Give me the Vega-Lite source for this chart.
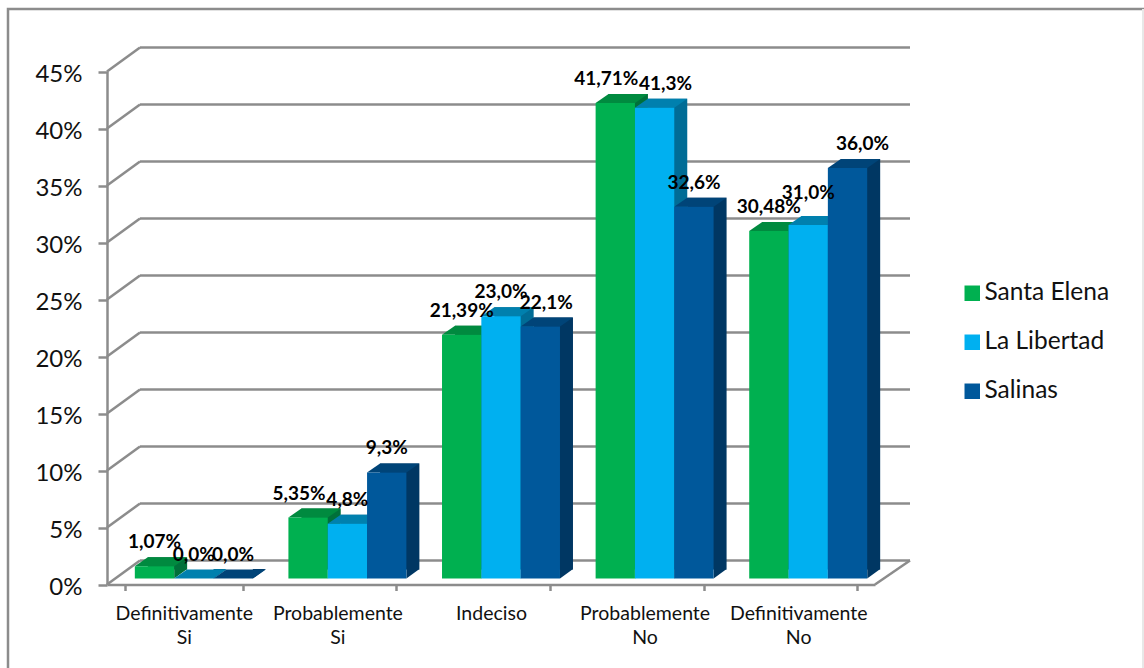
{
"$schema":"https://vega.github.io/schema/vega-lite/v6.json",
"autosize":{"type":"none"},
"padding":{"left":8,"top":9,"right":-4,"bottom":-2},
"width":1140,"height":661,
"background":"white",
"view":{"stroke":"#8c8c8c","strokeWidth":2.5,"fill":"white"},
"datasets":{
"barras":[
{"cat":"Definitivamente Si","serie":"Santa Elena","valor":1.07,"etiqueta":"1,07%"},
{"cat":"Definitivamente Si","serie":"La Libertad","valor":0,"etiqueta":"0,0%"},
{"cat":"Definitivamente Si","serie":"Salinas","valor":0,"etiqueta":"0,0%"},
{"cat":"Probablemente Si","serie":"Santa Elena","valor":5.35,"etiqueta":"5,35%"},
{"cat":"Probablemente Si","serie":"La Libertad","valor":4.8,"etiqueta":"4,8%"},
{"cat":"Probablemente Si","serie":"Salinas","valor":9.3,"etiqueta":"9,3%"},
{"cat":"Indeciso","serie":"Santa Elena","valor":21.39,"etiqueta":"21,39%"},
{"cat":"Indeciso","serie":"La Libertad","valor":23.0,"etiqueta":"23,0%"},
{"cat":"Indeciso","serie":"Salinas","valor":22.1,"etiqueta":"22,1%"},
{"cat":"Probablemente No","serie":"Santa Elena","valor":41.71,"etiqueta":"41,71%"},
{"cat":"Probablemente No","serie":"La Libertad","valor":41.3,"etiqueta":"41,3%"},
{"cat":"Probablemente No","serie":"Salinas","valor":32.6,"etiqueta":"32,6%"},
{"cat":"Definitivamente No","serie":"Santa Elena","valor":30.48,"etiqueta":"30,48%"},
{"cat":"Definitivamente No","serie":"La Libertad","valor":31.0,"etiqueta":"31,0%"},
{"cat":"Definitivamente No","serie":"Salinas","valor":36.0,"etiqueta":"36,0%"}
],
"marcas":[{"v":0},{"v":5},{"v":10},{"v":15},{"v":20},{"v":25},{"v":30},{"v":35},{"v":40},{"v":45}]
},
"resolve":{"scale":{"x":"independent","y":"independent","color":"independent"},"axis":{"x":"independent","y":"independent"}},
"layer":[
{"data":{"values":[{"v":0}]},"mark":{"type":"rule","stroke":"#e8e8e8","strokeWidth":2},
 "encoding":{"x":{"datum":1,"type":"quantitative","scale":{"domain":[0,1],"range":[1134,1135]},"axis":null}}},
{"data":{"name":"marcas"},"mark":{"type":"rule","stroke":"#8c8c8c","strokeWidth":2.5},
 "encoding":{"x":{"datum":0,"type":"quantitative","scale":{"domain":[0,1],"range":[132,902]},"axis":null},"x2":{"datum":1},
 "y":{"field":"v","type":"quantitative","scale":{"domain":[0,45],"range":[551.5,38.5]},"axis":null}}},
{"data":{"name":"marcas"},"mark":{"type":"point","shape":"M0,0L33,-24","size":4,"filled":false,"stroke":"#8c8c8c","strokeWidth":2.5,"opacity":1},
 "encoding":{"x":{"datum":0,"type":"quantitative","scale":{"domain":[0,1],"range":[99,867]},"axis":null},
 "y":{"field":"v","type":"quantitative","scale":{"domain":[0,45],"range":[575.5,62.5]},"axis":{"values":[0,5,10,15,20,25,30,35,40,45],"orient":"left","offset":-99,"grid":false,"title":null,"labelExpr":"datum.value+'%'","labelFont":"Lato","labelFontSize":24,"labelColor":"#111111","labelPadding":16,"labelOffset":3,"tickSize":9,"tickWidth":2.5,"tickColor":"#8c8c8c","domainColor":"#8c8c8c","domainWidth":2.5}}}},
{"data":{"values":[{"v":0}]},"mark":{"type":"point","shape":"M0,0L35,-24","size":4,"filled":false,"stroke":"#8c8c8c","strokeWidth":2.5,"opacity":1},
 "encoding":{"x":{"datum":1,"type":"quantitative","scale":{"domain":[0,1],"range":[99,867]},"axis":null},
 "y":{"field":"v","type":"quantitative","scale":{"domain":[0,45],"range":[575.5,62.5]},"axis":null}}},
{"data":{"name":"barras"},"mark":{"type":"bar","opacity":0},
 "encoding":{"x":{"field":"cat","type":"nominal","scale":{"domain":["Definitivamente Si","Probablemente Si","Indeciso","Probablemente No","Definitivamente No"],"range":[99,867],"paddingInner":0.232,"paddingOuter":0.116},"axis":{"title":null,"orient":"bottom","offset":-85.5,"tickBand":"extent","labelAngle":0,"labelExpr":"split(datum.label,' ')","labelFont":"Lato","labelFontSize":19.5,"labelColor":"#111111","labelPadding":14,"labelLineHeight":24,"labelBaseline":"top","tickSize":6,"tickWidth":2.5,"tickColor":"#8c8c8c","domainColor":"#8c8c8c","domainWidth":2.5,"labelLimit":300}},
 "y":{"field":"valor","type":"quantitative","stack":null,"scale":{"domain":[0,45],"range":[575.5,62.5]},"axis":null}}},
{"data":{"name":"barras"},"mark":{"type":"bar"},
 "encoding":{"x":{"field":"cat","type":"nominal","scale":{"domain":["Definitivamente Si","Probablemente Si","Indeciso","Probablemente No","Definitivamente No"],"range":[122,890],"paddingInner":0.232,"paddingOuter":0.116},"axis":null},
 "xOffset":{"field":"serie","scale":{"domain":["Santa Elena","La Libertad","Salinas"],"paddingInner":0,"paddingOuter":0}},
 "y":{"field":"valor","type":"quantitative","stack":null,"scale":{"domain":[0,45],"range":[560.5,47.5]},"axis":null},
 "color":{"field":"serie","legend":null,"scale":{"domain":["Santa Elena","La Libertad","Salinas"],"range":["#00703a","#006c96","#003763"]}}}},
{"data":{"name":"barras"},"mark":{"type":"point","shape":"M19.7,0L19.7,-9.5L32.7,-9.5Z","size":4,"filled":true,"opacity":1,"strokeWidth":0},
 "encoding":{"x":{"field":"cat","type":"nominal","scale":{"domain":["Definitivamente Si","Probablemente Si","Indeciso","Probablemente No","Definitivamente No"],"range":[109,877],"paddingInner":0.232,"paddingOuter":0.116},"axis":null},
 "xOffset":{"field":"serie","scale":{"domain":["Santa Elena","La Libertad","Salinas"],"paddingInner":0,"paddingOuter":0}},
 "y":{"datum":0,"type":"quantitative","scale":{"domain":[0,45],"range":[569.5,56.5]},"axis":null},
 "color":{"field":"serie","legend":null,"scale":{"domain":["Santa Elena","La Libertad","Salinas"],"range":["#00703a","#006c96","#003763"]}}}},
{"data":{"name":"barras"},"mark":{"type":"point","shape":"M-19.7,0L19.7,0L32.7,-9L-6.7,-9Z","size":4,"filled":true,"opacity":1,"strokeWidth":0},
 "encoding":{"x":{"field":"cat","type":"nominal","scale":{"domain":["Definitivamente Si","Probablemente Si","Indeciso","Probablemente No","Definitivamente No"],"range":[109,877],"paddingInner":0.232,"paddingOuter":0.116},"axis":null},
 "xOffset":{"field":"serie","scale":{"domain":["Santa Elena","La Libertad","Salinas"],"paddingInner":0,"paddingOuter":0}},
 "y":{"field":"valor","type":"quantitative","scale":{"domain":[0,45],"range":[569.5,56.5]},"axis":null},
 "color":{"field":"serie","legend":null,"scale":{"domain":["Santa Elena","La Libertad","Salinas"],"range":["#008a3f","#0080ae","#004478"]}}}},
{"data":{"name":"barras"},"mark":{"type":"bar"},
 "encoding":{"x":{"field":"cat","type":"nominal","scale":{"domain":["Definitivamente Si","Probablemente Si","Indeciso","Probablemente No","Definitivamente No"],"range":[109,877],"paddingInner":0.232,"paddingOuter":0.116},"axis":null},
 "xOffset":{"field":"serie","scale":{"domain":["Santa Elena","La Libertad","Salinas"],"paddingInner":0,"paddingOuter":0}},
 "y":{"field":"valor","type":"quantitative","stack":null,"scale":{"domain":[0,45],"range":[569.5,56.5]},"axis":null},
 "color":{"field":"serie","title":null,"scale":{"domain":["Santa Elena","La Libertad","Salinas"],"range":["#00b050","#00b0f0","#00589b"]},
 "legend":{"orient":"none","legendX":952,"legendY":272,"symbolType":"square","symbolSize":240,"symbolStrokeWidth":0,"labelFont":"Lato","labelFontSize":24.5,"labelColor":"#111111","labelOffset":0,"rowPadding":24,"padding":0}}}},
{"data":{"name":"barras"},"transform":[{"filter":"indexof(['5,35%','22,1%','41,71%','41,3%','36,0%','31,0%'],datum.etiqueta)<0"}],"mark":{"type":"text","font":"Lato","fontWeight":"bold","fontSize":19,"color":"#000000","baseline":"middle","dy":-24},
 "encoding":{"x":{"field":"cat","type":"nominal","scale":{"domain":["Definitivamente Si","Probablemente Si","Indeciso","Probablemente No","Definitivamente No"],"range":[109,877],"paddingInner":0.232,"paddingOuter":0.116},"axis":null},
 "xOffset":{"field":"serie","scale":{"domain":["Santa Elena","La Libertad","Salinas"],"paddingInner":0,"paddingOuter":0}},
 "y":{"field":"valor","type":"quantitative","scale":{"domain":[0,45],"range":[569.5,56.5]},"axis":null},"text":{"field":"etiqueta"}}},
{"data":{"name":"barras"},"transform":[{"filter":"datum.etiqueta=='5,35%'||datum.etiqueta=='41,71%'"}],"mark":{"type":"text","font":"Lato","fontWeight":"bold","fontSize":19,"color":"#000000","baseline":"middle","dy":-24,"dx":-9},
 "encoding":{"x":{"field":"cat","type":"nominal","scale":{"domain":["Definitivamente Si","Probablemente Si","Indeciso","Probablemente No","Definitivamente No"],"range":[109,877],"paddingInner":0.232,"paddingOuter":0.116},"axis":null},
 "xOffset":{"field":"serie","scale":{"domain":["Santa Elena","La Libertad","Salinas"],"paddingInner":0,"paddingOuter":0}},
 "y":{"field":"valor","type":"quantitative","scale":{"domain":[0,45],"range":[569.5,56.5]},"axis":null},"text":{"field":"etiqueta"}}},
{"data":{"name":"barras"},"transform":[{"filter":"datum.etiqueta=='22,1%'"}],"mark":{"type":"text","font":"Lato","fontWeight":"bold","fontSize":19,"color":"#000000","baseline":"middle","dy":-24,"dx":6},
 "encoding":{"x":{"field":"cat","type":"nominal","scale":{"domain":["Definitivamente Si","Probablemente Si","Indeciso","Probablemente No","Definitivamente No"],"range":[109,877],"paddingInner":0.232,"paddingOuter":0.116},"axis":null},
 "xOffset":{"field":"serie","scale":{"domain":["Santa Elena","La Libertad","Salinas"],"paddingInner":0,"paddingOuter":0}},
 "y":{"field":"valor","type":"quantitative","scale":{"domain":[0,45],"range":[569.5,56.5]},"axis":null},"text":{"field":"etiqueta"}}},
{"data":{"name":"barras"},"transform":[{"filter":"datum.etiqueta=='41,3%'"}],"mark":{"type":"text","font":"Lato","fontWeight":"bold","fontSize":19,"color":"#000000","baseline":"middle","dy":-24,"dx":11},
 "encoding":{"x":{"field":"cat","type":"nominal","scale":{"domain":["Definitivamente Si","Probablemente Si","Indeciso","Probablemente No","Definitivamente No"],"range":[109,877],"paddingInner":0.232,"paddingOuter":0.116},"axis":null},
 "xOffset":{"field":"serie","scale":{"domain":["Santa Elena","La Libertad","Salinas"],"paddingInner":0,"paddingOuter":0}},
 "y":{"field":"valor","type":"quantitative","scale":{"domain":[0,45],"range":[569.5,56.5]},"axis":null},"text":{"field":"etiqueta"}}},
{"data":{"name":"barras"},"transform":[{"filter":"datum.etiqueta=='36,0%'"}],"mark":{"type":"text","font":"Lato","fontWeight":"bold","fontSize":19,"color":"#000000","baseline":"middle","dy":-24,"dx":15},
 "encoding":{"x":{"field":"cat","type":"nominal","scale":{"domain":["Definitivamente Si","Probablemente Si","Indeciso","Probablemente No","Definitivamente No"],"range":[109,877],"paddingInner":0.232,"paddingOuter":0.116},"axis":null},
 "xOffset":{"field":"serie","scale":{"domain":["Santa Elena","La Libertad","Salinas"],"paddingInner":0,"paddingOuter":0}},
 "y":{"field":"valor","type":"quantitative","scale":{"domain":[0,45],"range":[569.5,56.5]},"axis":null},"text":{"field":"etiqueta"}}},
{"data":{"name":"barras"},"transform":[{"filter":"datum.etiqueta=='31,0%'"}],"mark":{"type":"text","font":"Lato","fontWeight":"bold","fontSize":19,"color":"#000000","baseline":"middle","dy":-32},
 "encoding":{"x":{"field":"cat","type":"nominal","scale":{"domain":["Definitivamente Si","Probablemente Si","Indeciso","Probablemente No","Definitivamente No"],"range":[109,877],"paddingInner":0.232,"paddingOuter":0.116},"axis":null},
 "xOffset":{"field":"serie","scale":{"domain":["Santa Elena","La Libertad","Salinas"],"paddingInner":0,"paddingOuter":0}},
 "y":{"field":"valor","type":"quantitative","scale":{"domain":[0,45],"range":[569.5,56.5]},"axis":null},"text":{"field":"etiqueta"}}}
]
}
